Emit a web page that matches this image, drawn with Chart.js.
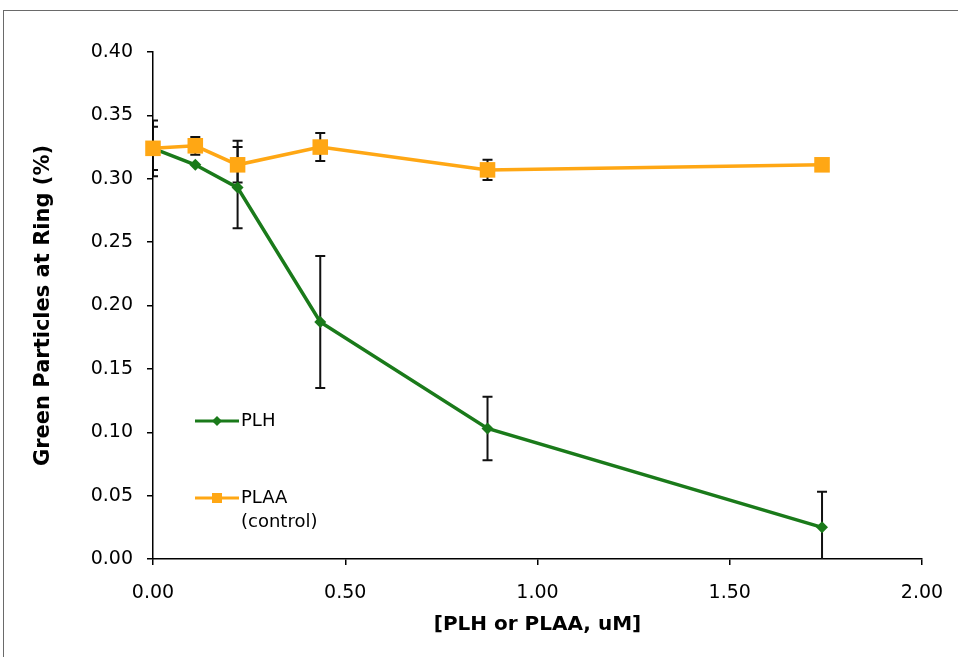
<!DOCTYPE html>
<html>
<head>
<meta charset="utf-8">
<script src="https://cdn.jsdelivr.net/npm/chart.js@4.4.1/dist/chart.umd.min.js"></script>
<style>
  html, body { margin: 0; padding: 0; background: #fff; overflow: hidden; }
  #wrap { position: relative; width: 958px; height: 657px; overflow: hidden; }
  #frame { position: absolute; left: 3px; top: 10px; width: 2000px; height: 2000px; border: 1px solid #6a6a6a; box-sizing: border-box; }
  canvas { position: absolute; left: 0; top: 0; }
</style>
</head>
<body>
<div id="wrap">
  <div id="frame"></div>
  <canvas id="c" width="958" height="657"></canvas>
</div>
<script>
// ---- data ----
const concentrations = [0, 0.11, 0.22, 0.435, 0.87, 1.74];
const plhValues   = [0.324, 0.311, 0.293, 0.187, 0.103, 0.025];
const plhErrPlus  = [0.022, 0, 0.037, 0.052, 0.025, 0.028];
const plhErrMinus = [0.022, 0, 0.032, 0.052, 0.025, 0.028];
const plaaValues  = [0.324, 0.326, 0.311, 0.325, 0.307, 0.311];
const plaaErr     = [0.017, 0.007, 0.014, 0.011, 0.008, 0];
const seriesNames = ['PLH', 'PLAA', '(control)'];
const xTitle = '[PLH or PLAA, uM]';
const yTitle = 'Green Particles at Ring (%)';

const GREEN = '#1a7a1a';
const ORANGE = '#ffa714';

function pts(xs, ys) { return xs.map((x, i) => ({x: x, y: ys[i]})); }

const errorBars = {
  id: 'errorBars',
  beforeDatasetsDraw(chart) {
    const ctx = chart.ctx, xs = chart.scales.x, ys = chart.scales.y, a = chart.chartArea;
    ctx.save();
    ctx.beginPath();
    ctx.rect(a.left, a.top - 2, a.right - a.left, a.bottom - a.top + 2);
    ctx.clip();
    ctx.strokeStyle = '#111';
    ctx.lineWidth = 2;
    const sets = [
      [plhValues, plhErrPlus, plhErrMinus],
      [plaaValues, plaaErr, plaaErr]
    ];
    sets.forEach(([vals, up, dn]) => {
      vals.forEach((v, i) => {
        if (!up[i] && !dn[i]) return;
        const px = xs.getPixelForValue(concentrations[i]);
        const yTop = ys.getPixelForValue(v + up[i]);
        const yBot = ys.getPixelForValue(v - dn[i]);
        ctx.beginPath();
        ctx.moveTo(px, yTop); ctx.lineTo(px, yBot);
        ctx.moveTo(px - 5, yTop); ctx.lineTo(px + 5, yTop);
        ctx.moveTo(px - 5, yBot); ctx.lineTo(px + 5, yBot);
        ctx.stroke();
      });
    });
    ctx.restore();
  }
};

const customLegend = {
  id: 'customLegend',
  afterDraw(chart) {
    const ctx = chart.ctx;
    ctx.save();
    ctx.font = '18px "DejaVu Sans"';
    ctx.fillStyle = '#000';
    ctx.textBaseline = 'middle';
    // PLH
    ctx.strokeStyle = GREEN; ctx.lineWidth = 3;
    ctx.beginPath(); ctx.moveTo(195, 421); ctx.lineTo(239, 421); ctx.stroke();
    ctx.fillStyle = GREEN;
    ctx.beginPath(); ctx.moveTo(217, 416); ctx.lineTo(222, 421); ctx.lineTo(217, 426); ctx.lineTo(212, 421); ctx.closePath(); ctx.fill();
    ctx.fillStyle = '#000';
    ctx.fillText(seriesNames[0], 241, 421);
    // PLAA
    ctx.strokeStyle = ORANGE; ctx.lineWidth = 3;
    ctx.beginPath(); ctx.moveTo(195, 498); ctx.lineTo(239, 498); ctx.stroke();
    ctx.fillStyle = ORANGE;
    ctx.fillRect(212, 493, 10, 10);
    ctx.fillStyle = '#000';
    ctx.fillText(seriesNames[1], 241, 498);
    ctx.fillText(seriesNames[2], 241, 522);
    ctx.restore();
  }
};

new Chart(document.getElementById('c'), {
  type: 'line',
  data: {
    datasets: [
      {
        label: seriesNames[0],
        data: pts(concentrations, plhValues),
        borderColor: GREEN,
        backgroundColor: GREEN,
        borderWidth: 3.5,
        pointStyle: 'rectRot',
        pointRadius: 6,
        pointBorderWidth: 0,
        order: 2,
        tension: 0
      },
      {
        label: seriesNames[1],
        data: pts(concentrations, plaaValues),
        borderColor: ORANGE,
        backgroundColor: ORANGE,
        borderWidth: 3.5,
        pointStyle: 'rect',
        pointRadius: 11,
        pointBorderWidth: 0,
        order: 1,
        tension: 0
      }
    ]
  },
  options: {
    responsive: false,
    animation: false,
    clip: false,
    layout: { autoPadding: false, padding: { left: 0, top: 52, right: 36, bottom: 0 } },
    plugins: { legend: { display: false }, tooltip: { enabled: false } },
    scales: {
      x: {
        type: 'linear',
        min: 0, max: 2,
        afterFit(s) { s.height = 98; },
        border: { display: true, color: '#000', width: 1.5 },
        grid: { display: true, drawOnChartArea: false, drawTicks: true, tickLength: 6, color: '#000', lineWidth: 1.5 },
        ticks: {
          stepSize: 0.5, autoSkip: false, maxRotation: 0, padding: 14,
          color: '#000', font: { family: 'DejaVu Sans', size: 19, lineHeight: 1.45 },
          callback: v => Number(v).toFixed(2)
        },
        title: {
          display: true, text: xTitle, color: '#000',
          font: { family: 'DejaVu Sans', size: 20, weight: 'bold' },
          padding: { top: 0, bottom: 20 }
        }
      },
      y: {
        type: 'linear',
        min: 0, max: 0.4,
        afterFit(s) { s.width = 153; },
        border: { display: true, color: '#000', width: 1.5 },
        grid: { display: true, drawOnChartArea: false, drawTicks: true, tickLength: 6, color: '#000', lineWidth: 1.5 },
        ticks: {
          stepSize: 0.05, autoSkip: false, padding: 14,
          color: '#000', font: { family: 'DejaVu Sans', size: 19 },
          callback: v => Number(v).toFixed(2)
        },
        title: {
          display: true, text: yTitle, color: '#000',
          font: { family: 'DejaVu Sans', size: 21, weight: 'bold' },
          padding: { top: 31, bottom: 0 }
        }
      }
    }
  },
  plugins: [errorBars, customLegend]
});
</script>
</body>
</html>
